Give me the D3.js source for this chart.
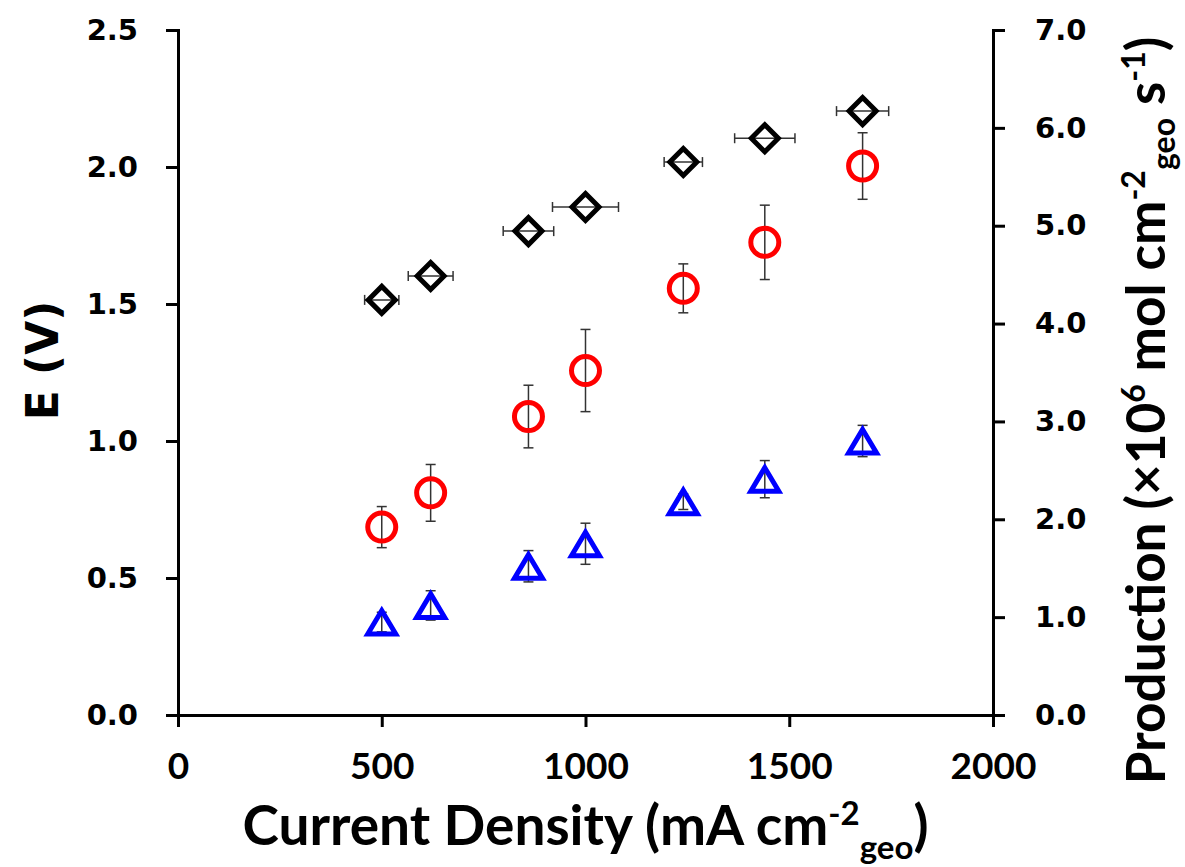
<!DOCTYPE html>
<html>
<head>
<meta charset="utf-8">
<script src="https://cdn.jsdelivr.net/npm/d3@7"></script>
<style>
  body { margin: 0; background: #fff; }
  .tickL text, .tickR text { font-family: "DejaVu Sans", Verdana, sans-serif; font-weight: bold; font-size: 29px; }
  .tickX text { font-family: Lato, "Open Sans", sans-serif; font-weight: bold; font-size: 37px; }
  .title { font-family: Lato, "Open Sans", sans-serif; font-weight: bold; fill: #000; }
</style>
</head>
<body>
<div id="chart"></div>
<script>
// current density (mA cm-2 geo) and its x error
var currentDensity = [500, 620, 860, 1000, 1240, 1440, 1680];
var currentErr = [42, 55, 62, 81, 47, 74, 64];

// cell potential E (V), left axis
var potential = [1.515, 1.602, 1.766, 1.854, 2.018, 2.105, 2.204];

// production (x10^6 mol cm-2 s-1), right axis
var prodRed = [1.92, 2.27, 3.05, 3.52, 4.36, 4.83, 5.61];
var prodRedErr = [0.21, 0.29, 0.32, 0.42, 0.25, 0.38, 0.34];
var prodBlue = [0.95, 1.12, 1.52, 1.75, 2.18, 2.41, 2.80];
var prodBlueErr = [0.10, 0.15, 0.16, 0.21, 0.08, 0.19, 0.16];

var xTicks = [0, 500, 1000, 1500, 2000];
var leftTicks = [0, 0.5, 1.0, 1.5, 2.0, 2.5];
var rightTicks = [0, 1, 2, 3, 4, 5, 6, 7];

var margin = {top: 30, right: 192, bottom: 152, left: 178},
    width = 1185 - margin.left - margin.right,
    height = 867 - margin.top - margin.bottom;

var x = d3.scaleLinear().domain([0, 2000]).range([0, width]);
var yL = d3.scaleLinear().domain([0, 2.5]).range([height, 0]);
var yR = d3.scaleLinear().domain([0, 7]).range([height, 0]);

var svg = d3.select("#chart").append("svg")
    .attr("width", 1185)
    .attr("height", 867)
  .append("g")
    .attr("transform", "translate(" + margin.left + "," + margin.top + ")");

// axes
function styleAxis(g) {
  g.select(".domain").attr("stroke", "#000").attr("stroke-width", 3);
  g.selectAll(".tick line").attr("stroke", "#000").attr("stroke-width", 3);
  g.selectAll(".tick text").attr("fill", "#000");
}

svg.append("g")
    .attr("class", "tickX")
    .attr("transform", "translate(0," + height + ")")
    .call(d3.axisBottom(x).tickValues(xTicks).tickSize(12).tickSizeOuter(0).tickPadding(26).tickFormat(d3.format("d")))
    .call(styleAxis);

svg.append("g")
    .attr("class", "tickL")
    .call(d3.axisLeft(yL).tickValues(leftTicks).tickSize(12).tickSizeOuter(0).tickPadding(28).tickFormat(d3.format(".1f")))
    .call(styleAxis);

svg.append("g")
    .attr("class", "tickR")
    .attr("transform", "translate(" + width + ",0)")
    .call(d3.axisRight(yR).tickValues(rightTicks).tickSize(12).tickSizeOuter(0).tickPadding(30).tickFormat(d3.format(".1f")))
    .call(styleAxis);

svg.selectAll(".domain").attr("stroke-linecap", "square");

// data rows
var rows = currentDensity.map(function(d, i) {
  return {cd: d, cdErr: currentErr[i], e: potential[i],
          red: prodRed[i], redErr: prodRedErr[i],
          blue: prodBlue[i], blueErr: prodBlueErr[i]};
});

var errColor = "#333";
var cap = 5;

// x error bars on potential
var ex = svg.append("g").attr("stroke", errColor).attr("stroke-width", 1.5);
rows.forEach(function(d) {
  var y0 = yL(d.e), x1 = x(d.cd - d.cdErr), x2 = x(d.cd + d.cdErr);
  ex.append("line").attr("x1", x1).attr("x2", x2).attr("y1", y0).attr("y2", y0);
  ex.append("line").attr("x1", x1).attr("x2", x1).attr("y1", y0 - cap).attr("y2", y0 + cap);
  ex.append("line").attr("x1", x2).attr("x2", x2).attr("y1", y0 - cap).attr("y2", y0 + cap);
});

// y error bars on production
function yErr(key, errKey) {
  var g = svg.append("g").attr("stroke", errColor).attr("stroke-width", 1.5);
  rows.forEach(function(d) {
    var x0 = x(d.cd), y1 = yR(d[key] - d[errKey]), y2 = yR(d[key] + d[errKey]);
    g.append("line").attr("x1", x0).attr("x2", x0).attr("y1", y1).attr("y2", y2);
    g.append("line").attr("x1", x0 - cap).attr("x2", x0 + cap).attr("y1", y1).attr("y2", y1);
    g.append("line").attr("x1", x0 - cap).attr("x2", x0 + cap).attr("y1", y2).attr("y2", y2);
  });
}
yErr("red", "redErr");
yErr("blue", "blueErr");

// markers
svg.selectAll(".diamond")
    .data(rows)
  .enter().append("path")
    .attr("class", "diamond")
    .attr("d", "M0,-13.5L13.5,0L0,13.5L-13.5,0Z")
    .attr("transform", function(d) { return "translate(" + x(d.cd) + "," + yL(d.e) + ")"; })
    .attr("fill", "none")
    .attr("stroke", "#000")
    .attr("stroke-width", 5);

svg.selectAll(".circ")
    .data(rows)
  .enter().append("circle")
    .attr("class", "circ")
    .attr("cx", function(d) { return x(d.cd); })
    .attr("cy", function(d) { return yR(d.red); })
    .attr("r", 14)
    .attr("fill", "none")
    .attr("stroke", "#ff0000")
    .attr("stroke-width", 5);

svg.selectAll(".tri")
    .data(rows)
  .enter().append("path")
    .attr("class", "tri")
    .attr("d", "M0,-11.5L14,12L-14,12Z")
    .attr("transform", function(d) { return "translate(" + x(d.cd) + "," + yR(d.blue) + ")"; })
    .attr("fill", "none")
    .attr("stroke", "#0000ff")
    .attr("stroke-width", 5)
    .attr("stroke-linejoin", "miter");

// axis titles
var xt = svg.append("text")
    .attr("class", "title")
    .attr("x", width / 2)
    .attr("y", height + 130)
    .attr("text-anchor", "middle")
    .style("font-size", "55px");
xt.append("tspan").text("Current Density (mA cm");
xt.append("tspan").attr("dy", -20).style("font-size", "33px").text("-2");
xt.append("tspan").attr("dy", 34).style("font-size", "33px").text("geo");
xt.append("tspan").attr("dy", -14).text(")");

svg.append("text")
    .attr("class", "title")
    .attr("transform", "translate(-120," + (height / 2 - 12) + ") rotate(-90)")
    .attr("text-anchor", "middle")
    .style("font-family", "'DejaVu Sans', sans-serif")
    .style("font-size", "44px")
    .text("E (V)");

var rt = svg.append("text")
    .attr("class", "title")
    .attr("transform", "translate(" + (width + 172) + "," + (height / 2 + 38) + ") rotate(-90)")
    .attr("text-anchor", "middle")
    .style("font-size", "53px");
rt.append("tspan").text("Production (\u00d710");
rt.append("tspan").attr("dy", -20).style("font-size", "32px").text("6");
rt.append("tspan").attr("dy", 20).text(" mol cm");
rt.append("tspan").attr("dy", -20).style("font-size", "32px").text("-2");
rt.append("tspan").attr("dy", 30).style("font-size", "32px").text("geo");
rt.append("tspan").attr("dy", -10).text(" s");
rt.append("tspan").attr("dy", -20).style("font-size", "32px").text("-1");
rt.append("tspan").attr("dy", 20).text(")");
</script>
</body>
</html>
